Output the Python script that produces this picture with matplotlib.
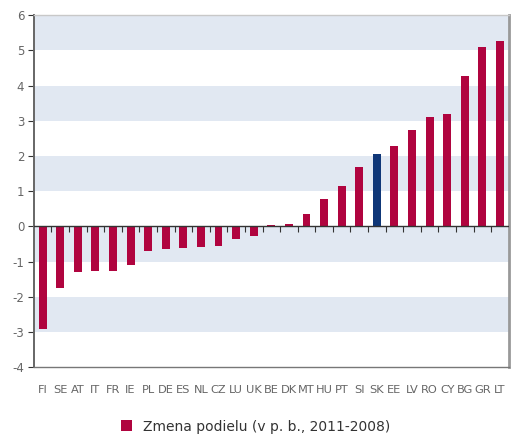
import matplotlib
matplotlib.use('Agg')
import matplotlib.pyplot as plt
import numpy as np
from matplotlib.patches import Patch

plt.rcParams['axes.unicode_minus'] = False

countries = ['FI', 'SE', 'AT', 'IT', 'FR', 'IE', 'PL', 'DE', 'ES', 'NL', 'CZ', 'LU', 'UK',
             'BE', 'DK', 'MT', 'HU', 'PT', 'SI', 'SK', 'EE', 'LV', 'RO', 'CY', 'BG', 'GR', 'LT']
values = [-2.92, -1.76, -1.30, -1.27, -1.28, -1.10, -0.71, -0.65, -0.62, -0.59, -0.56, -0.37, -0.28,
          0.05, 0.08, 0.34, 0.77, 1.16, 1.70, 2.05, 2.27, 2.73, 3.10, 3.18, 4.26, 5.11, 5.26]
highlight = 'SK'
legend_label = 'Zmena podielu (v p. b., 2011-2008)'
band_ranges = [(5, 6), (3, 4), (1, 2), (-1, 0), (-3, -2)]

RED = '#b0043f'
BLUE = '#0f3778'
BAND = '#e1e8f2'

fig = plt.figure(figsize=(5.12, 4.34), dpi=100)
ax = fig.add_axes([0.0664, 0.154, 0.927, 0.811])

for lo, hi in band_ranges:
    ax.axhspan(lo, hi, color=BAND, lw=0, zorder=0)

x = np.arange(len(countries))
colors = [BLUE if c == highlight else RED for c in countries]
ax.bar(x, values, width=0.45, color=colors, zorder=2)

ax.axhline(0, color='#333333', lw=1.0, zorder=3)
# small ticks between bars on the zero line
ax.vlines(x[:-1] + 0.5, -0.17, 0, color='#333333', lw=0.8, zorder=3)

ax.set_xlim(-0.49, len(countries) - 0.51)
ax.set_ylim(-4, 6)
ax.set_yticks(range(-4, 7))
ax.set_xticks(x)
ax.set_xticklabels(countries, fontsize=8.2, color='#666666')
ax.tick_params(axis='x', length=0, pad=13)
ax.tick_params(axis='y', length=4, width=0.8, color='#333333', labelsize=8.5,
               labelcolor='#666666', pad=3)

ax.spines['left'].set_color('#666666')
ax.spines['left'].set_linewidth(1.4)
ax.spines['bottom'].set_color('#777777')
ax.spines['bottom'].set_linewidth(1.0)
ax.spines['top'].set_color('#c8c8c8')
ax.spines['top'].set_linewidth(1.0)
ax.spines['right'].set_color('#999999')
ax.spines['right'].set_linewidth(2.0)

handle = Patch(facecolor=RED, edgecolor='none')
fig.legend([handle], [legend_label], loc='center', bbox_to_anchor=(0.5, 0.017),
           frameon=False, fontsize=10, handlelength=0.8, handleheight=0.8,
           handletextpad=0.8, labelcolor='#333333')

fig.savefig('out.png', dpi=100)
